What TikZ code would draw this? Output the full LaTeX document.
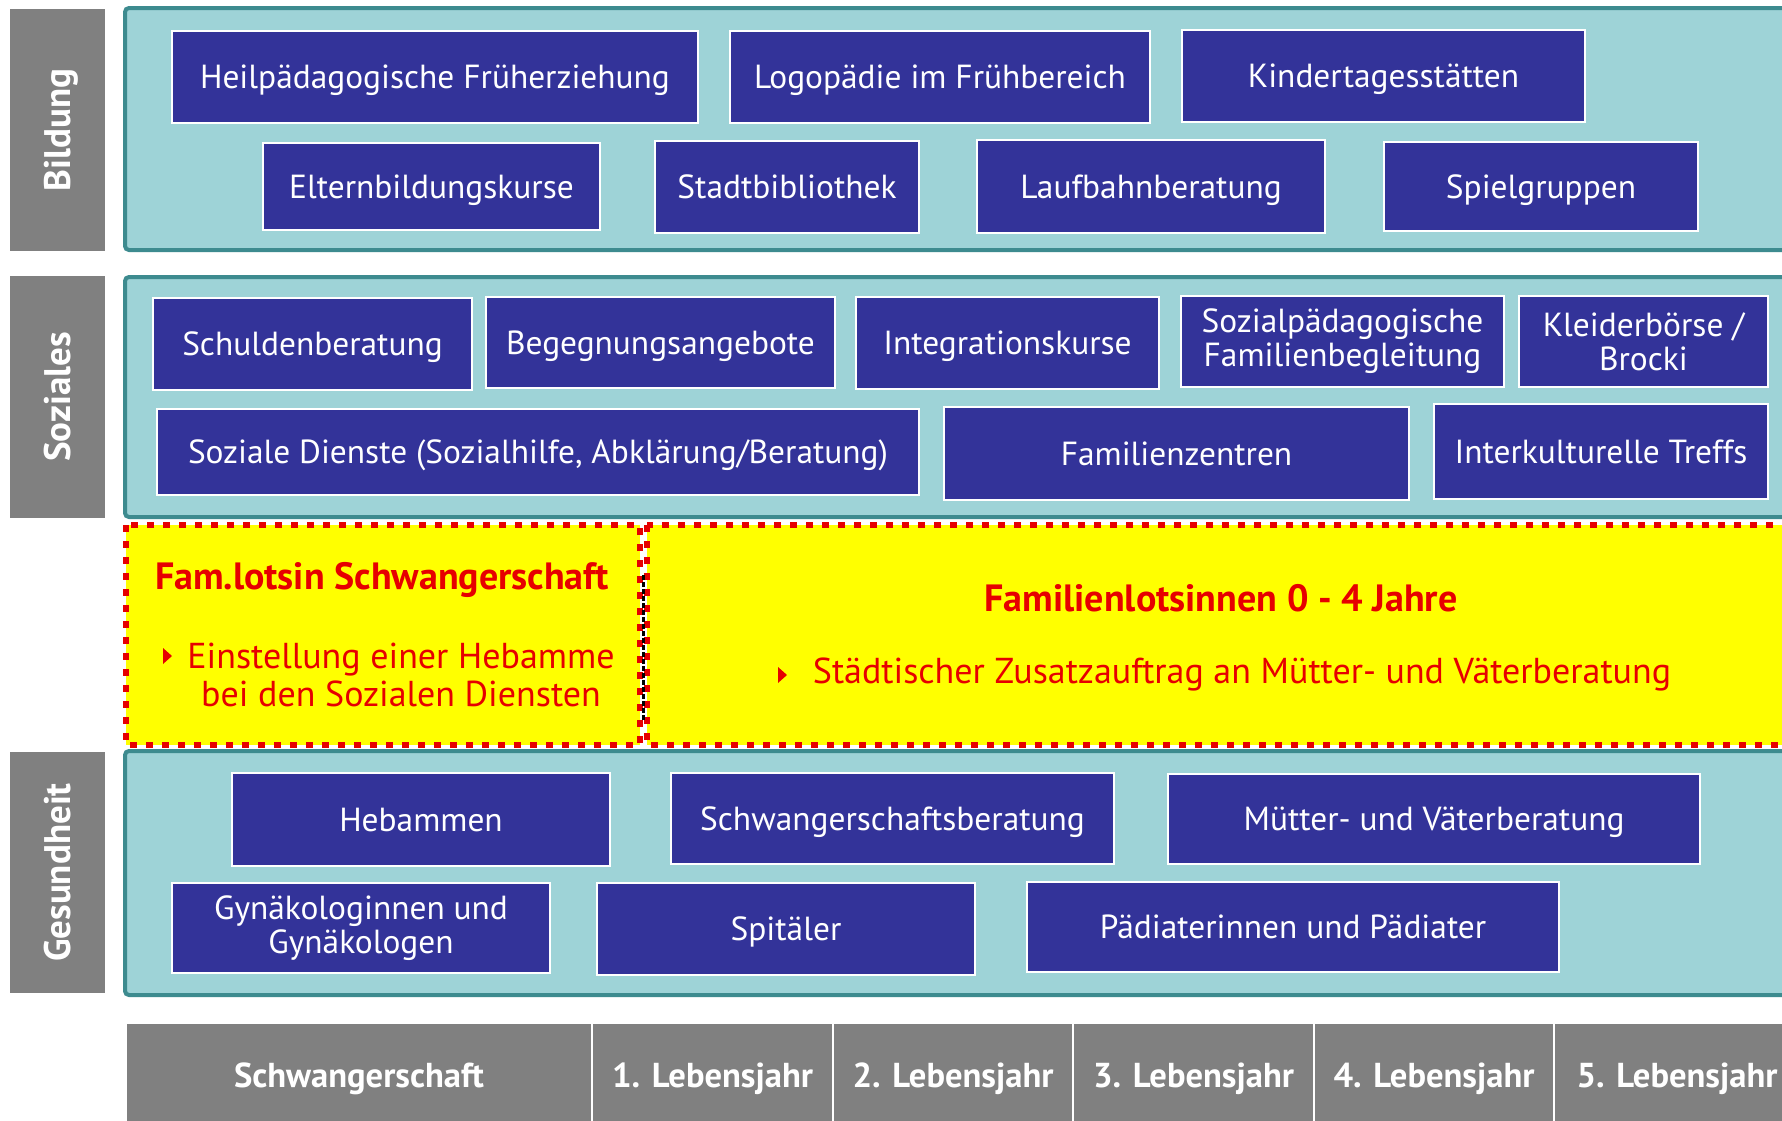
\documentclass[tikz,border=0pt]{standalone}
\usepackage{fontspec}
\setmainfont{PT Sans}
\definecolor{tealfill}{RGB}{158,211,215}
\definecolor{tealline}{RGB}{61,139,143}
\definecolor{boxblue}{RGB}{51,51,153}
\definecolor{sidegray}{RGB}{128,128,128}
\definecolor{lotsred}{RGB}{230,0,0}
\definecolor{lotsyellow}{RGB}{255,255,0}
\tikzset{
  panel/.style={draw=tealline, fill=tealfill, line width=2pt, rounded corners=2pt},
  bluebase/.style={draw=white, fill=boxblue, line width=1pt, text=white, align=center, inner sep=0pt,
    font=\fontsize{16.7}{17}\selectfont},
  bluebox/.style={bluebase, text height=13.5pt, text depth=2pt},
  bluetwo/.style={bluebase},
  sidelabel/.style={fill=sidegray, text=white, inner sep=0pt, rotate=90,
    font=\bfseries\fontsize{18.5}{20}\selectfont, text height=15pt, text depth=2pt},
  yearcell/.style={draw=white, fill=sidegray, line width=1pt, text=white, inner sep=0pt,
    font=\bfseries\fontsize{17.3}{20}\selectfont, text height=14pt, text depth=2pt},
  lotsbox/.style={draw=lotsred, fill=lotsyellow, line width=3pt, dash pattern=on 3.3pt off 4.7pt},
  lotstitle/.style={text=lotsred, inner sep=0pt, font=\bfseries\fontsize{19}{21}\selectfont},
  lotsbody/.style={text=lotsred, inner sep=0pt, align=center, font=\fontsize{18}{19}\selectfont},
}
\newcommand\bx[7][bluebox]{\node[#1, minimum width={(#5-#3)*0.5pt}, minimum height={(#6-#4)*0.5pt}] (#2) at ({(#3+#5)/2},{(#4+#6)/2}) {#7};}
\newcommand\side[6]{\node[sidelabel, minimum width={(#5-#3)*0.5pt}, minimum height={(#4-#2)*0.5pt}] (#1) at ({(#2+#4)/2},{(#3+#5)/2}) {#6};}
\newcommand\yc[4]{\node[yearcell, minimum width={(#3-#2)*0.5pt}, minimum height=52pt, anchor=north] (#1) at ({(#2+#3)/2},1022) {#4};}
\begin{document}
\begin{tikzpicture}[x=0.5pt,y=-0.5pt]
\clip (0,0) rectangle (1782,1120);
\fill[white] (0,0) rectangle (1782,1120);

% side labels
\side{sBild}{10}{9}{105}{251}{Bildung}
\side{sSoz}{10}{276}{105}{518}{Soziales}
\side{sGes}{10}{752}{105}{993}{Gesundheit}

% panels
\draw[panel] (125,8) rectangle (1800,250);
\draw[panel] (125,277) rectangle (1800,517);
\draw[panel] (125,751) rectangle (1800,995);

% Bildung
\bx{hfe}{172}{31}{698}{123}{Heilpädagogische Früherziehung}
\bx{logo}{730}{31}{1150}{123}{Logopädie im Frühbereich}
\bx{kita}{1182}{30}{1585}{122}{Kindertagesstätten}
\bx{ebk}{263}{143}{600}{230}{Elternbildungskurse}
\bx{stb}{655}{141}{919}{233}{Stadtbibliothek}
\bx{lfb}{977}{140}{1325}{233}{Laufbahnberatung}
\bx{spg}{1384}{142}{1698}{231}{Spielgruppen}

% Soziales
\bx{sdb}{153}{298}{472}{390}{Schuldenberatung}
\bx{bga}{486}{297}{835}{388}{Begegnungsangebote}
\bx{ink}{856}{297}{1159}{389}{Integrationskurse}
\bx[bluetwo]{spf}{1181}{296}{1504}{387}{Sozialpädagogische\\Familienbegleitung}
\bx[bluetwo]{klb}{1519}{296}{1768}{387}{Kleiderbörse /\\Brocki}
\bx{sdi}{157}{409}{919}{495}{Soziale Dienste (Sozialhilfe, Abklärung/Beratung)}
\bx{fz}{944}{407}{1409}{500}{Familienzentren}
\bx{ikt}{1434}{404}{1768}{499}{Interkulturelle Treffs}

% Familienlotsinnen
\draw[lotsbox] (647,525) rectangle (1798,745);
\draw[lotsbox] (126,525) rectangle (640,745);
\draw[black, line width=1.5pt, dash pattern=on 2.5pt off 1pt] (643,575) -- (643,722);
\node[lotstitle] (fls) at (382,580) {Fam.lotsin Schwangerschaft};
\node[lotsbody] (flsb) at (401,675) {Einstellung einer Hebamme\\bei den Sozialen Diensten};
\fill[lotsred] (163,648) -- (163,664) -- (172,656) -- cycle;
\node[lotstitle] (flj) at (1221,598) {Familienlotsinnen 0 - 4 Jahre};
\node[lotsbody] (fljb) at (1242,674) {Städtischer Zusatzauftrag an Mütter- und Väterberatung};
\fill[lotsred] (778,667) -- (778,683) -- (787,675) -- cycle;

% Gesundheit
\bx{heb}{232}{773}{610}{866}{Hebammen}
\bx{swb}{671}{773}{1114}{864}{Schwangerschaftsberatung}
\bx{mvb}{1168}{774}{1700}{864}{Mütter- und Väterberatung}
\bx[bluetwo]{gyn}{172}{883}{550}{973}{Gynäkologinnen und\\Gynäkologen}
\bx{spi}{597}{883}{975}{975}{Spitäler}
\bx{pae}{1027}{882}{1559}{972}{Pädiaterinnen und Pädiater}

% years
\yc{y0}{126}{592}{Schwangerschaft}
\yc{y1}{592}{833}{1. Lebensjahr}
\yc{y2}{833}{1073}{2. Lebensjahr}
\yc{y3}{1073}{1314}{3. Lebensjahr}
\yc{y4}{1314}{1554}{4. Lebensjahr}
\yc{y5}{1554}{1800}{5. Lebensjahr}
\end{tikzpicture}
\end{document}
